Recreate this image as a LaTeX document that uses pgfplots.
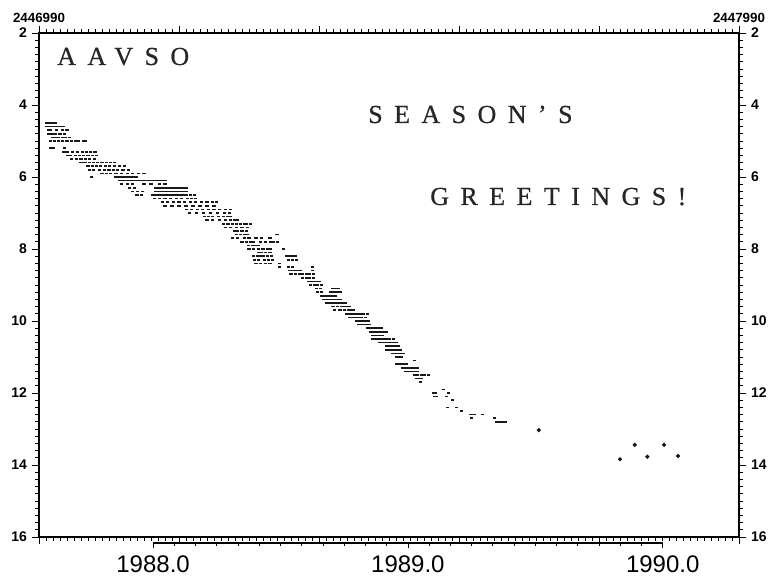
\documentclass[border=0pt]{standalone}
\usepackage{fontspec}
\setmainfont{Liberation Sans}
\newfontfamily\greet[LetterSpace=44,FakeBold=0.6]{Liberation Serif}
\usepackage{pgfplots}
\pgfplotsset{compat=1.18}
\usetikzlibrary{calc}
\begin{document}
\begin{tikzpicture}
\pgfplotsset{
  common/.style={
    scale only axis, width=525pt, height=378pt,
    xmin=0, xmax=1000, ymin=2, ymax=16, y dir=reverse,
    axis line style={line width=0.9pt},
    ytick={2,4,...,16}, minor y tick num=9,
    tick align=outside,
    major tick length=5.5pt, minor tick length=3pt,
    every tick/.style={black, line width=0.6pt},
    /pgf/number format/assume math mode=true,
    tick label style={font=\bfseries\fontsize{10.5}{12}\selectfont},
  }
}
\begin{axis}[common,
  xtick={0,200,...,1000}, minor x tick num=19, xticklabels={},
]
\addplot[only marks, mark=-, mark size=1.15pt, line width=1.3pt, black!90] coordinates {
(11,4.5) (14,4.5) (17,4.5) (20,4.5) (23,4.5)
(11,4.6) (14,4.6) (17,4.6) (20,4.6) (24,4.6) (27,4.6) (31,4.6) (35,4.6)
(13,4.7) (17,4.7) (25,4.7) (33,4.7) (40,4.7)
(13,4.8) (16,4.8) (19,4.8) (24,4.8) (30,4.8) (36,4.8)
(20,4.9) (24,4.9) (28,4.9) (33,4.9) (38,4.9) (43,4.9)
(16,5.0) (22,5.0) (28,5.0) (34,5.0) (40,5.0) (46,5.0) (52,5.0) (57,5.0) (63,5.0) (67,5.0)
(16,5.2) (20,5.2) (36,5.2)
(35,5.3) (40,5.3) (48,5.3) (55,5.3) (62,5.3) (68,5.3) (74,5.3) (80,5.3)
(41,5.4) (45,5.4) (52,5.4) (58,5.4) (64,5.4) (70,5.4) (76,5.4) (82,5.4)
(47,5.5) (54,5.5) (60,5.5) (66,5.5) (72,5.5) (79,5.5)
(59,5.6) (63,5.6) (67,5.6) (72,5.6) (78,5.6) (84,5.6) (90,5.6) (96,5.6) (102,5.6) (108,5.6)
(70,5.7) (76,5.7) (82,5.7) (88,5.7) (95,5.7) (101,5.7) (108,5.7) (115,5.7) (122,5.7)
(72,5.8) (78,5.8) (86,5.8) (94,5.8) (100,5.8) (106,5.8) (112,5.8) (120,5.8) (128,5.8)
(90,5.9) (96,5.9) (102,5.9) (110,5.9) (118,5.9) (126,5.9) (134,5.9) (142,5.9) (150,5.9)
(75,6.0) (110,6.0) (115,6.0) (120,6.0) (125,6.0) (130,6.0) (135,6.0) (139,6.0)
(115,6.1) (120,6.1) (125,6.1) (130,6.1) (135,6.1) (140,6.1) (145,6.1) (150,6.1) (155,6.1) (160,6.1) (165,6.1) (170,6.1) (175,6.1) (180,6.1)
(118,6.2) (126,6.2) (134,6.2) (150,6.2) (160,6.2) (172,6.2) (180,6.2)
(129,6.3) (137,6.3) (167,6.3) (171,6.3) (175,6.3) (179,6.3) (183,6.3) (187,6.3) (191,6.3) (195,6.3) (199,6.3) (203,6.3) (207,6.3) (211,6.3)
(133,6.4) (141,6.4) (148,6.4) (167,6.4) (171,6.4) (175,6.4) (179,6.4) (183,6.4) (187,6.4) (191,6.4) (195,6.4) (199,6.4) (203,6.4) (207,6.4) (211,6.4)
(140,6.5) (146,6.5) (162,6.5) (166,6.5) (170,6.5) (175,6.5) (180,6.5) (185,6.5) (190,6.5) (195,6.5) (200,6.5) (205,6.5) (210,6.5) (216,6.5) (222,6.5)
(165,6.6) (172,6.6) (180,6.6) (188,6.6) (196,6.6) (204,6.6) (212,6.6) (218,6.6) (224,6.6)
(176,6.7) (184,6.7) (192,6.7) (200,6.7) (208,6.7) (216,6.7) (224,6.7) (232,6.7) (240,6.7) (248,6.7) (253,6.7)
(180,6.8) (190,6.8) (200,6.8) (210,6.8) (220,6.8) (230,6.8) (240,6.8) (250,6.8)
(211,6.9) (218,6.9) (226,6.9) (234,6.9) (242,6.9) (250,6.9) (258,6.9) (266,6.9) (274,6.9)
(215,7.0) (225,7.0) (235,7.0) (245,7.0) (255,7.0) (265,7.0) (272,7.0)
(236,7.1) (242,7.1) (248,7.1) (256,7.1) (264,7.1) (270,7.1) (274,7.1)
(240,7.2) (248,7.2) (258,7.2) (266,7.2) (274,7.2) (280,7.2) (284,7.2)
(264,7.3) (270,7.3) (276,7.3) (282,7.3) (288,7.3) (293,7.3) (297,7.3) (302,7.3)
(266,7.4) (274,7.4) (282,7.4) (290,7.4) (298,7.4)
(279,7.5) (284,7.5) (290,7.5) (296,7.5)
(282,7.6) (288,7.6) (294,7.6) (298,7.6) (340,7.6)
(276,7.7) (284,7.7) (293,7.7) (300,7.7) (310,7.7) (318,7.7) (330,7.7)
(290,7.8) (296,7.8) (302,7.8) (306,7.8) (316,7.8) (324,7.8) (331,7.8) (335,7.8) (341,7.8)
(299,7.9) (305,7.9) (310,7.9) (313,7.9)
(300,8.0) (306,8.0) (313,8.0) (320,8.0) (326,8.0) (331,8.0) (349,8.0)
(313,8.1) (318,8.1) (324,8.1) (330,8.1)
(306,8.2) (312,8.2) (316,8.2) (320,8.2) (326,8.2) (332,8.2) (354,8.2) (358,8.2) (362,8.2) (366,8.2)
(308,8.3) (314,8.3) (322,8.3) (328,8.3) (334,8.3) (356,8.3) (362,8.3) (368,8.3)
(310,8.4) (316,8.4) (324,8.4) (330,8.4) (344,8.4)
(344,8.5) (356,8.5) (362,8.5) (391,8.5)
(358,8.6) (362,8.6) (366,8.6) (370,8.6) (374,8.6) (391,8.6)
(360,8.7) (366,8.7) (372,8.7) (377,8.7) (382,8.7) (387,8.7) (392,8.7)
(377,8.8) (382,8.8) (387,8.8) (392,8.8)
(385,8.9) (390,8.9) (395,8.9) (400,8.9)
(388,9.0) (394,9.0) (398,9.0) (404,9.0)
(396,9.1) (402,9.1) (420,9.1) (424,9.1) (428,9.1)
(398,9.2) (404,9.2) (416,9.2) (420,9.2) (424,9.2) (428,9.2) (430,9.2)
(404,9.3) (408,9.3) (412,9.3) (416,9.3) (420,9.3) (424,9.3)
(406,9.4) (410,9.4) (414,9.4) (418,9.4) (422,9.4) (426,9.4) (430,9.4)
(411,9.5) (415,9.5) (419,9.5) (423,9.5) (427,9.5) (430,9.5) (434,9.5) (438,9.5)
(420,9.6) (426,9.6) (432,9.6) (436,9.6) (440,9.6) (444,9.6)
(422,9.7) (430,9.7) (436,9.7) (442,9.7) (446,9.7) (449,9.7)
(440,9.8) (444,9.8) (448,9.8) (452,9.8) (456,9.8) (460,9.8) (464,9.8) (469,9.8)
(444,9.9) (448,9.9) (452,9.9) (456,9.9) (460,9.9) (466,9.9)
(454,10.0) (458,10.0) (462,10.0) (466,10.0) (470,10.0)
(456,10.1) (460,10.1) (464,10.1) (468,10.1) (472,10.1)
(469,10.2) (473,10.2) (477,10.2) (481,10.2) (485,10.2) (489,10.2)
(473,10.3) (477,10.3) (481,10.3) (485,10.3) (489,10.3) (493,10.3) (497,10.3)
(477,10.4) (481,10.4) (485,10.4) (489,10.4) (491,10.4)
(477,10.5) (481,10.5) (485,10.5) (489,10.5) (493,10.5) (497,10.5) (501,10.5) (506,10.5)
(487,10.6) (491,10.6) (495,10.6) (499,10.6) (503,10.6) (507,10.6) (511,10.6)
(497,10.7) (501,10.7) (505,10.7) (509,10.7) (513,10.7)
(497,10.8) (501,10.8) (505,10.8) (509,10.8) (513,10.8) (517,10.8)
(505,10.9) (509,10.9) (513,10.9) (518,10.9) (520,10.9)
(511,11.0) (515,11.0) (518,11.0)
(536,11.1)
(511,11.2) (515,11.2) (519,11.2) (523,11.2) (525,11.2)
(520,11.3) (524,11.3) (528,11.3) (532,11.3) (536,11.3) (541,11.3)
(524,11.4) (528,11.4) (532,11.4) (536,11.4) (540,11.4)
(537,11.5) (541,11.5) (547,11.5) (551,11.5) (556,11.5)
(540,11.6) (544,11.6) (547,11.6)
(545,11.7) (578,11.9)
(563,12.0) (567,12.0) (585,12.0)
(565,12.1) (568,12.1) (582,12.1)
(591,12.2) (584,12.4) (597,12.4) (604,12.5)
(616,12.6) (619,12.6) (622,12.6) (633,12.6)
(618,12.7) (651,12.7)
(654,12.8) (657,12.8) (660,12.8) (663,12.8) (666,12.8)
};
\addplot[only marks, mark=*, mark size=1.4pt, black!90] coordinates {
(714,13.03) (830,13.84) (851,13.44) (869,13.77) (893,13.44) (913,13.75)
};
\coordinate (Y88) at (axis cs:163,16);
\coordinate (Y89) at (axis cs:527,16);
\coordinate (Y90) at (axis cs:891,16);
\end{axis}
\begin{axis}[common, hide x axis, axis y line*=right]
\end{axis}
% top Julian date labels
\node[anchor=base, font=\bfseries\fontsize{10}{12}\selectfont, yshift=7.5pt] at (current axis.north west) {2446990};
\node[anchor=base, font=\bfseries\fontsize{10}{12}\selectfont, yshift=7.5pt] at (current axis.north east) {2447990};
% year axis
\draw[line width=0.8pt] ([yshift=-4.5pt]Y88) -- ([yshift=-4.5pt]Y90);
\foreach \i in {0,...,24} {
  \draw[line width=0.6pt] ($(Y88)!\i/24!(Y90)+(0,-4.5pt)$) -- ++(0,-2.5pt);
}
\foreach \c in {Y88,Y89,Y90} {
  \draw[line width=0.6pt] ([yshift=-4.5pt]\c) -- ++(0,-4pt);
}
\node[anchor=north, inner sep=0pt, font=\fontsize{18}{20}\selectfont, yshift=-13.5pt] at (Y88) {1988.0};
\node[anchor=north, inner sep=0pt, font=\fontsize{18}{20}\selectfont, yshift=-13.5pt] at (Y89) {1989.0};
\node[anchor=north, inner sep=0pt, font=\fontsize{18}{20}\selectfont, yshift=-13.5pt] at (Y90) {1990.0};
% greetings
\node[anchor=base west, inner sep=0pt, font=\greet\fontsize{19.5}{21}\selectfont, text=black!85] at ([xshift=13.5pt,yshift=-24pt]current axis.north west) {AAVSO};
\node[anchor=base west, inner sep=0pt, font=\greet\fontsize{19.5}{21}\selectfont, text=black!85] at ([xshift=246.75pt,yshift=-67.5pt]current axis.north west) {SEASON’S};
\node[anchor=base west, inner sep=0pt, font=\greet\fontsize{19.5}{21}\selectfont, text=black!85] at ([xshift=293.25pt,yshift=-129pt]current axis.north west) {GREETINGS!};
\pgfresetboundingbox
\path ([shift={(-29.25pt,-29.25pt)}]current axis.south west) rectangle ([shift={(21.75pt,24.75pt)}]current axis.north east);
\end{tikzpicture}
\end{document}
